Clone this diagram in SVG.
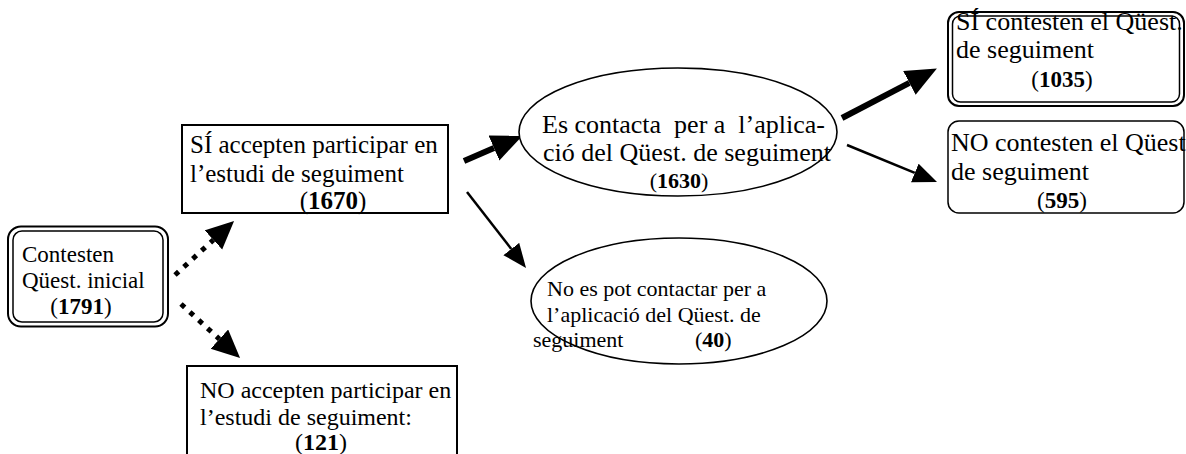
<svg xmlns="http://www.w3.org/2000/svg" width="1186" height="454" viewBox="0 0 1186 454">
<style>
text{font-family:"Liberation Serif","Times New Roman",serif;fill:#000}
.b{font-weight:bold}
.box{fill:#fff;stroke:#000;stroke-width:2}
.inner{fill:none;stroke:#000;stroke-width:1.5}
.ell{fill:#fff;stroke:#000;stroke-width:1.6}
.thick{stroke:#000;stroke-width:6;fill:none}
.thin{stroke:#000;stroke-width:2.5;fill:none}
.dot{stroke:#000;stroke-width:5;stroke-dasharray:5 7;fill:none}
</style>
<defs>
<marker id="hThick" markerUnits="userSpaceOnUse" markerWidth="32" markerHeight="28" refX="0" refY="13.5" orient="auto"><path d="M0,0 L31,13.5 L0,27 z" fill="#000"/></marker>
<marker id="hDot" markerUnits="userSpaceOnUse" markerWidth="29" markerHeight="27" refX="0" refY="13" orient="auto"><path d="M0,0 L28,13 L0,26 z" fill="#000"/></marker>
<marker id="hThin" markerUnits="userSpaceOnUse" markerWidth="25" markerHeight="21" refX="0" refY="10" orient="auto"><path d="M0,0 L24,10 L0,20 z" fill="#000"/></marker>
</defs>

<g id="connectors">
<line class="dot" x1="175" y1="275" x2="213.4" y2="239.9" marker-end="url(#hDot)"/>
<line class="dot" x1="181" y1="304" x2="219.4" y2="339.1" marker-end="url(#hDot)"/>
<line class="thick" x1="464" y1="161" x2="494" y2="148" marker-end="url(#hThick)"/>
<line class="thin" x1="467" y1="192" x2="511.3" y2="249" marker-end="url(#hThin)"/>
<line class="thick" x1="842" y1="118" x2="909.4" y2="82.9" marker-end="url(#hThick)"/>
<line class="thin" x1="847" y1="145" x2="914.8" y2="172.9" marker-end="url(#hThin)"/>
</g>

<g id="n-contesten">
<rect class="box" x="8" y="226.5" width="160" height="100" rx="13"/>
<rect class="inner" x="13" y="231" width="150" height="91" rx="9"/>
<text x="22" y="262" font-size="23">Contesten</text>
<text x="22" y="288" font-size="23">Qüest. inicial</text>
<text x="81" y="314" font-size="23" text-anchor="middle">(<tspan class="b">1791</tspan>)</text>
</g>

<g id="n-si-accepten">
<rect class="box" x="182" y="125" width="266" height="88"/>
<text x="190" y="153" font-size="25">SÍ accepten participar en</text>
<text x="190" y="182" font-size="25">l’estudi de seguiment</text>
<text x="333" y="209" font-size="25" text-anchor="middle">(<tspan class="b">1670</tspan>)</text>
</g>

<g id="n-no-accepten">
<rect class="box" x="187" y="366" width="270" height="100"/>
<text x="200" y="398" font-size="24">NO accepten participar en</text>
<text x="200" y="425" font-size="24">l’estudi de seguiment:</text>
<text x="321" y="450" font-size="24" text-anchor="middle">(<tspan class="b">121</tspan>)</text>
</g>

<g id="n-contacta">
<ellipse class="ell" cx="678" cy="132" rx="159" ry="64"/>
<text x="542" y="133" font-size="26" xml:space="preserve">Es contacta  per a  l’aplica-</text>
<text x="543" y="161" font-size="26">ció del Qüest. de seguiment</text>
<text x="679" y="188" font-size="22" text-anchor="middle">(<tspan class="b">1630</tspan>)</text>
</g>

<g id="n-no-contacta">
<ellipse class="ell" cx="679" cy="301" rx="148" ry="63"/>
<text x="547" y="296" font-size="22">No es pot contactar per a</text>
<text x="547" y="322" font-size="22">l’aplicació del Qüest. de</text>
<text x="533" y="347" font-size="22">seguiment</text>
<text x="695" y="347" font-size="22">(<tspan class="b">40</tspan>)</text>
</g>

<g id="n-si-contesten">
<rect class="box" x="948" y="12" width="236" height="94" rx="11"/>
<rect class="inner" x="952.5" y="16" width="227" height="86" rx="8"/>
<text x="956" y="30" font-size="26">SÍ contesten el Qüest.</text>
<text x="956" y="58" font-size="26">de seguiment</text>
<text x="1062" y="87" font-size="23" text-anchor="middle">(<tspan class="b">1035</tspan>)</text>
</g>

<g id="n-no-contesten">
<rect class="box" x="948" y="121" width="236" height="92" rx="11" style="stroke-width:1.5"/>
<text x="951" y="151" font-size="26">NO contesten el Qüest</text>
<text x="951" y="180" font-size="26">de seguiment</text>
<text x="1062" y="208" font-size="23" text-anchor="middle">(<tspan class="b">595</tspan>)</text>
</g>
</svg>
